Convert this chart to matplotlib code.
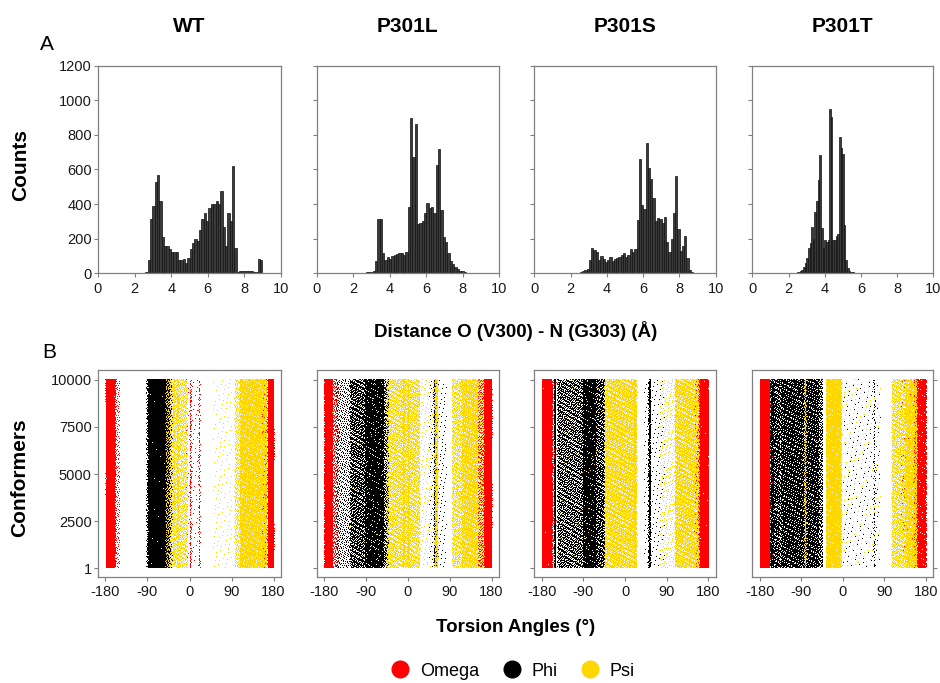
import numpy as np
import matplotlib
matplotlib.use('Agg')
import matplotlib.pyplot as plt
from matplotlib.lines import Line2D

plt.rcParams['font.family'] = ['Liberation Sans', 'DejaVu Sans']
plt.rcParams['axes.unicode_minus'] = False

variants = ['WT', 'P301L', 'P301S', 'P301T']

# distance histograms: first bin centre, bin width, counts per bin
wt_start, wt_width = 2.39, 0.128
wt_counts = [3, 3, 5, 77, 312, 390, 530, 570, 420, 210, 160, 155, 140, 125, 125, 125,
             77, 77, 80, 58, 88, 140, 177, 200, 185, 250, 312, 346, 300, 375, 400, 400,
             420, 400, 477, 265, 155, 348, 304, 620, 145, 8, 15, 15, 15, 15, 12, 12,
             8, 8, 80, 75]
l_start, l_width = 2.364, 0.128
l_counts = [2, 3, 3, 5, 6, 8, 12, 70, 312, 312, 120, 77, 92, 83, 100, 108, 110, 120,
            115, 105, 125, 383, 900, 673, 862, 285, 292, 305, 346, 408, 375, 383, 350,
            627, 717, 365, 212, 183, 115, 73, 54, 38, 25, 15, 15, 8, 4, 3, 2]
s_start, s_width = 2.45, 0.125
s_counts = [3, 5, 12, 20, 27, 77, 145, 135, 125, 77, 102, 81, 67, 77, 96, 73, 81, 87,
            92, 106, 115, 96, 106, 140, 125, 140, 308, 663, 392, 371, 754, 611, 546,
            438, 304, 319, 315, 288, 323, 181, 125, 200, 346, 560, 254, 131, 160, 215,
            87, 20, 6]
t_start, t_width = 1.95, 0.09
t_counts = [2, 2, 3, 3, 3, 4, 5, 8, 12, 20, 38, 60, 87, 148, 177, 270, 196, 356, 420,
            538, 683, 260, 144, 192, 183, 195, 952, 904, 192, 192, 215, 230, 788, 727,
            688, 279, 77, 29, 15, 10, 6, 4, 3]

hists = [(wt_start, wt_width, wt_counts), (l_start, l_width, l_counts),
         (s_start, s_width, s_counts), (t_start, t_width, t_counts)]

# torsion angle bands: (low deg, high deg, share of the 10000 conformers)
n_conf = 10000
wt_omega = [(-180, -160, 0.46), (-160, -150, 0.02), (155, 168, 0.04), (168, 180, 0.43),
            (0, 3, 0.015), (19, 22, 0.012), (-10, 20, 0.01)]
wt_phi = [(-93, -89, 0.02), (-89, -44, 0.93), (-44, -38, 0.02)]
wt_psi = [(-52, -44, 0.03), (-44, -5, 0.17), (-36, -33, 0.02), (-27, -24, 0.02),
          (50, 90, 0.015), (96, 107, 0.04), (107, 165, 0.6)]

l_omega = [(-180, -163, 0.45), (-163, -150, 0.05), (150, 163, 0.06), (163, 180, 0.42)]
l_phi = [(-155, -125, 0.07), (-125, -94, 0.2), (-94, -52, 0.55), (-52, -42, 0.05),
         (55, 61, 0.04), (45, 82, 0.02)]
l_psi = [(-47, 25, 0.38), (-12, -8, 0.03), (-1, 2, 0.02), (25, 57, 0.02), (57, 64, 0.06),
         (94, 115, 0.1), (115, 150, 0.3), (150, 163, 0.05), (-170, -60, 0.005)]

s_omega = [(-180, -158, 0.5), (-158, -150, 0.02), (150, 158, 0.04), (158, 180, 0.42)]
s_phi = [(-153, -151, 0.08), (-147, -92, 0.3), (-92, -63, 0.4), (-63, -45, 0.12),
         (50, 55, 0.06), (40, 85, 0.02)]
s_psi = [(-45, 25, 0.5), (19, 21, 0.04), (75, 107, 0.04), (107, 160, 0.38),
         (-150, -50, 0.01)]

t_omega = [(-180, -159, 0.5), (-159, -150, 0.03), (125, 153, 0.03), (153, 180, 0.42)]
t_phi = [(-158, -150, 0.08), (-150, -136, 0.1), (-136, -52, 0.72), (-52, -44, 0.04),
         (0, 80, 0.02), (66, 69, 0.01)]
t_psi = [(-84, -80, 0.03), (-37, -4, 0.45), (-22, -18, 0.04), (-4, 80, 0.03),
         (105, 134, 0.15), (134, 160, 0.25)]

torsions = [(wt_omega, wt_phi, wt_psi), (l_omega, l_phi, l_psi),
            (s_omega, s_phi, s_psi), (t_omega, t_phi, t_psi)]
angle_names = ['Omega', 'Phi', 'Psi']
angle_colors = ['#ff0000', '#000000', '#ffd700']


def band_points(bands, offset=0, span=412.0):
    # spread each band's conformers evenly: an R2 low-discrepancy fill over a square
    # patch (span degrees ~ panel height), cut to the band width, so no randomness
    a1, a2 = 0.7548776662466927, 0.5698402909980532
    xs, ys = [], []
    for lo, hi, share in bands:
        n = int(round(share * n_conf))
        w = hi - lo
        k = np.arange(int(np.ceil(n * span / w))) + offset
        u = (0.5 + k * a1) % 1
        v = (0.5 + k * a2) % 1
        keep = u * span < w
        xs.append(lo + u[keep] * span)
        ys.append(1 + (n_conf - 1) * v[keep])
        offset += len(k)
    return np.concatenate(xs), np.concatenate(ys)


W, H = 940, 683
fig = plt.figure(figsize=(W / 100, H / 100), dpi=100)


def rect(l, r, t, b):
    return [l / W, 1 - b / H, (r - l) / W, (b - t) / H]


cols = [(98, 281), (316.7, 499), (534.3, 715.7), (752.3, 933.3)]
grey = '#808080'

for i, (l, r) in enumerate(cols):
    # panel A
    ax = fig.add_axes(rect(l, r, 65.7, 273.3))
    start, width, counts = hists[i]
    centers = start + width * np.arange(len(counts))
    ax.bar(centers, counts, width=width, color='#3a3a3a', edgecolor='#111111', linewidth=0.5)
    ax.set_xlim(0, 10)
    ax.set_ylim(0, 1200)
    ax.set_xticks(range(0, 11, 2))
    ax.set_yticks(range(0, 1201, 200))
    if i > 0:
        ax.set_yticklabels([])
    ax.tick_params(direction='out', length=3, width=0.8, color=grey, labelsize=10.5,
                   labelcolor='#1a1a1a', pad=1.5)
    ax.tick_params(axis='x', pad=3)
    for sp in ax.spines.values():
        sp.set_color(grey)
        sp.set_linewidth(0.9)
    fig.text((l + r) / 2 / W, 1 - 26.7 / H, variants[i], ha='center', va='center',
             fontsize=15, fontweight='bold')

    # panel B
    ax2 = fig.add_axes(rect(l, r, 369.5, 577))
    for j, (bands, c) in enumerate(zip(torsions[i], angle_colors)):
        x, y = band_points(bands, offset=1000 * (3 * i + j))
        ax2.plot(x, y, ',', color=c)
    ax2.set_xlim(-196, 196)
    ax2.set_ylim(-460, 10545)
    ax2.set_xticks([-180, -90, 0, 90, 180])
    ax2.set_yticks([1, 2500, 5000, 7500, 10000])
    if i > 0:
        ax2.set_yticklabels([])
    if i == 3:
        ax2.yaxis.tick_right()
    ax2.tick_params(direction='out', length=3, width=0.8, color=grey, labelsize=10.5,
                    labelcolor='#1a1a1a', pad=1.5)
    ax2.tick_params(axis='x', pad=3)
    for sp in ax2.spines.values():
        sp.set_color(grey)
        sp.set_linewidth(0.9)

fig.text(40 / W, 1 - 44.5 / H, 'A', ha='left', va='center', fontsize=15)
fig.text(42 / W, 1 - 352 / H, 'B', ha='left', va='center', fontsize=15)
fig.text(21 / W, 1 - 165 / H, 'Counts', ha='center', va='center', rotation=90,
         fontsize=15, fontweight='bold')
fig.text(20 / W, 1 - 478 / H, 'Conformers', ha='center', va='center', rotation=90,
         fontsize=15, fontweight='bold')
fig.text(516 / W, 1 - 331 / H, 'Distance O (V300) - N (G303) (Å)', ha='center',
         va='center', fontsize=13.5, fontweight='bold')
fig.text(516 / W, 1 - 628 / H, 'Torsion Angles (°)', ha='center', va='center',
         fontsize=13.5, fontweight='bold')

handles = [Line2D([], [], marker='o', ls='', color=c, markersize=12) for c in angle_colors]
fig.legend(handles, angle_names, loc='center', bbox_to_anchor=(513 / W, 1 - 671 / H),
           ncol=3, frameon=False, fontsize=13, handlelength=1.0, handletextpad=0.6,
           columnspacing=1.3, borderaxespad=0, borderpad=0)

fig.savefig('out.png', dpi=100)
